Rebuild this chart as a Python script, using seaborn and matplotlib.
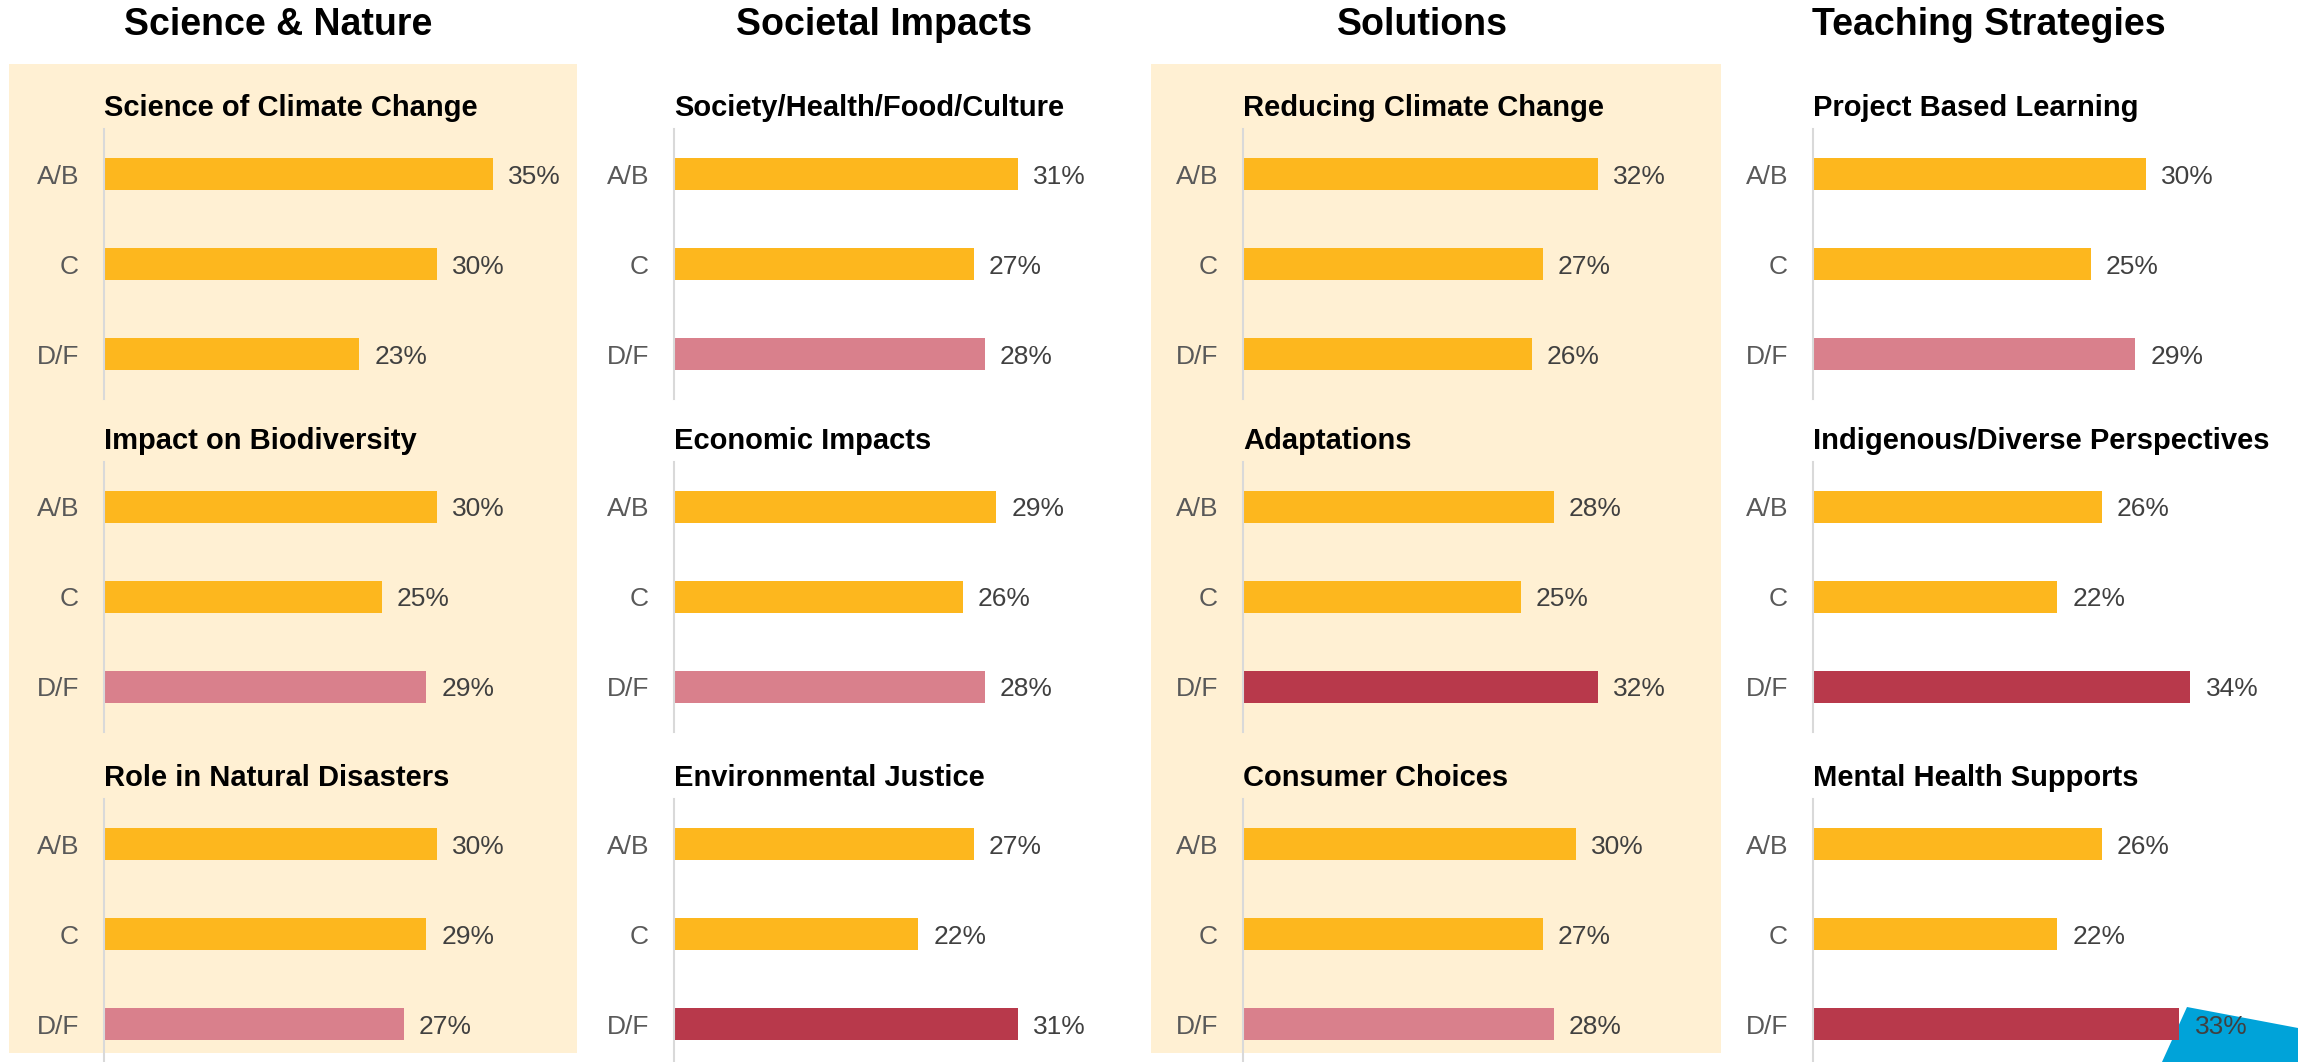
import matplotlib
matplotlib.use("Agg")

import matplotlib.pyplot as plt
import seaborn as sns
from matplotlib.patches import Rectangle, Polygon

# data
GRADES = ["A/B", "C", "D/F"]

COLUMN_TITLES = ["Science & Nature", "Societal Impacts", "Solutions", "Teaching Strategies"]

science_topics = ["Science of Climate Change", "Impact on Biodiversity", "Role in Natural Disasters"]
science_values = [[35, 30, 23], [30, 25, 29], [30, 29, 27]]

societal_topics = ["Society/Health/Food/Culture", "Economic Impacts", "Environmental Justice"]
societal_values = [[31, 27, 28], [29, 26, 28], [27, 22, 31]]

solutions_topics = ["Reducing Climate Change", "Adaptations", "Consumer Choices"]
solutions_values = [[32, 27, 26], [28, 25, 32], [30, 27, 28]]

teaching_topics = ["Project Based Learning", "Indigenous/Diverse Perspectives", "Mental Health Supports"]
teaching_values = [[30, 25, 29], [26, 22, 34], [26, 22, 33]]

TOPICS = [science_topics, societal_topics, solutions_topics, teaching_topics]
VALUES = [science_values, societal_values, solutions_values, teaching_values]

GOLD = "#FDB71E"
PINK = "#D9808C"
RED = "#B8394B"
PANEL_BG = "#FFF0D3"
AXIS_GREY = "#D9D9D9"

W, H = 2298, 1062


def bar_color(grade, value):
    if grade != "D/F":
        return GOLD
    if value >= 30:
        return RED
    if value >= 27:
        return PINK
    return GOLD


def fx(px):
    return px / W


def fy(py):
    return 1 - py / H


sns.set_theme(style="white")
plt.rcParams["font.family"] = ["Liberation Sans", "DejaVu Sans"]

fig = plt.figure(figsize=(W / 100, H / 100), dpi=100)
fig.patch.set_facecolor("white")

# highlighted column panels
for x0, x1 in [(9, 577), (1151, 1721)]:
    fig.add_artist(Rectangle((fx(x0), fy(1053)), fx(x1 - x0), (1053 - 64) / H,
                             transform=fig.transFigure, facecolor=PANEL_BG,
                             edgecolor="none", zorder=-2))

# decorative corner shape
fig.add_artist(Polygon([(fx(2187), fy(1007)), (fx(2298), fy(1028)),
                        (fx(2298), fy(1062)), (fx(2162), fy(1062))],
                       closed=True, transform=fig.transFigure,
                       facecolor="#00A3D9", edgecolor="none", zorder=-1))

col_left = [104, 674, 1243, 1813]
col_title_x = [278, 884, 1422, 1989]
row_top = [129, 462, 799]
ax_w, ax_h = 444, 270

for c, title in enumerate(COLUMN_TITLES):
    fig.text(fx(col_title_x[c]), fy(35), title, ha="center", va="baseline",
             fontsize=27, fontweight="bold", color="black")

    for r in range(3):
        vals = VALUES[c][r]
        ax = fig.add_axes([fx(col_left[c]), fy(row_top[r] + ax_h), fx(ax_w), ax_h / H])
        ax.patch.set_alpha(0)
        palette = {g: bar_color(g, v) for g, v in zip(GRADES, vals)}
        sns.barplot(x=vals, y=GRADES, hue=GRADES, palette=palette, orient="h",
                    width=0.36, saturation=1, legend=False, linewidth=0, ax=ax)
        for cont in ax.containers:
            labels = ax.bar_label(cont, fmt="%d%%", padding=11, fontsize=19, color="#404040")
            for t in labels:
                t.set_va("center_baseline")

        ax.set_xlim(0, 40)
        ax.set_ylim(2.5, -0.5)
        ax.set_xlabel("")
        ax.set_ylabel("")
        ax.set_xticks([])
        ax.tick_params(axis="y", length=0, pad=18, labelsize=19, labelcolor="#595959")
        for side in ["top", "right", "bottom"]:
            ax.spines[side].set_visible(False)
        ax.spines["left"].set_color(AXIS_GREY)
        ax.spines["left"].set_linewidth(1.5)
        ax.set_title(TOPICS[c][r], loc="left", fontsize=21, fontweight="bold",
                     color="black", pad=9.5)

fig.savefig("out.png", dpi=100)
plt.close(fig)
